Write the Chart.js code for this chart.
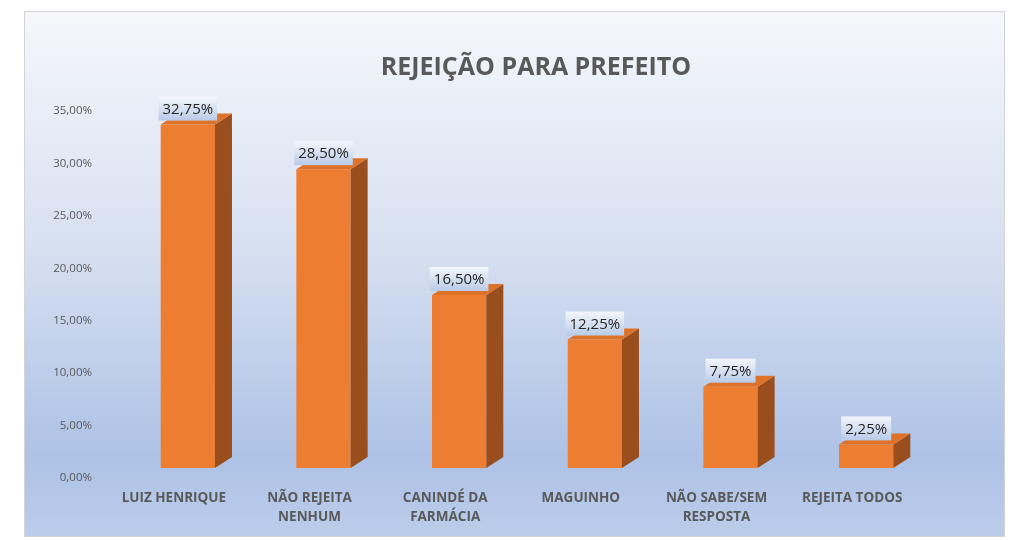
<!DOCTYPE html>
<html>
<head>
<meta charset="utf-8">
<script src="https://cdn.jsdelivr.net/npm/chart.js@4"></script>
<style>
  body { margin: 0; background: #ffffff; }
  #wrap { width: 1024px; height: 540px; position: relative; }
</style>
</head>
<body>
<div id="wrap"><canvas id="chart" width="1024" height="540"></canvas></div>
<script>
const categories = [
    ['LUIZ HENRIQUE'],
    ['NÃO REJEITA', 'NENHUM'],
    ['CANINDÉ DA', 'FARMÁCIA'],
    ['MAGUINHO'],
    ['NÃO SABE/SEM', 'RESPOSTA'],
    ['REJEITA TODOS']
];
const rejeicao = [32.75, 28.50, 16.50, 12.25, 7.75, 2.25];
const yTicks = [0, 5, 10, 15, 20, 25, 30, 35];

const fmt = v => v.toFixed(2).replace('.', ',') + '%';

// 3D look: shift bars up a bit and add side/top faces + value boxes
const depthX = 17, depthY = -11, shiftY = -10;

const frame = {
    id: 'frame',
    beforeDraw(chart) {
        const ctx = chart.ctx;
        const g = ctx.createLinearGradient(0, 11, 0, 536);
        g.addColorStop(0, '#f5f7fb');
        g.addColorStop(0.45, '#d7e0f1');
        g.addColorStop(0.85, '#adc2e6');
        g.addColorStop(1, '#bccdeb');
        ctx.save();
        ctx.fillStyle = g;
        ctx.fillRect(24, 11, 980, 525);
        ctx.strokeStyle = '#d4d4d4';
        ctx.lineWidth = 1;
        ctx.strokeRect(24.5, 11.5, 980, 525);
        // title
        ctx.fillStyle = '#595959';
        ctx.font = 'bold 25px "Open Sans"';
        ctx.textAlign = 'center';
        ctx.textBaseline = 'middle';
        ctx.fillText('REJEIÇÃO PARA PREFEITO', 536, 68);
        ctx.restore();
    },
    beforeDatasetsDraw(chart) {
        chart.ctx.save();
        chart.ctx.translate(0, shiftY);
    },
    afterDatasetsDraw(chart) {
        const ctx = chart.ctx;
        const meta = chart.getDatasetMeta(0);
        meta.data.forEach((bar, i) => {
            const l = bar.x - bar.width / 2, r = bar.x + bar.width / 2;
            const t = bar.y, b = bar.base;
            // side face
            ctx.fillStyle = '#9a4e1d';
            ctx.beginPath();
            ctx.moveTo(r, t);
            ctx.lineTo(r + depthX, t + depthY);
            ctx.lineTo(r + depthX, b + depthY);
            ctx.lineTo(r, b);
            ctx.closePath();
            ctx.fill();
            // top face
            ctx.fillStyle = '#df7229';
            ctx.beginPath();
            ctx.moveTo(l, t);
            ctx.lineTo(l + depthX, t + depthY);
            ctx.lineTo(r + depthX, t + depthY);
            ctx.lineTo(r, t);
            ctx.closePath();
            ctx.fill();
        });
        ctx.restore();

        // value boxes
        ctx.save();
        ctx.font = '15px "Open Sans"';
        ctx.textAlign = 'center';
        ctx.textBaseline = 'middle';
        meta.data.forEach((bar, i) => {
            const txt = fmt(rejeicao[i]);
            const w = ctx.measureText(txt).width + 8;
            const h = 24;
            const top = bar.y + shiftY - 4 - h;
            const g = ctx.createLinearGradient(0, top, 0, top + h);
            g.addColorStop(0, '#f4f7fc');
            g.addColorStop(1, '#b9cbe8');
            ctx.fillStyle = g;
            ctx.fillRect(bar.x - w / 2, top, w, h);
            ctx.fillStyle = '#262626';
            ctx.fillText(txt, bar.x, top + h / 2 + 1);
        });
        ctx.restore();
    }
};

new Chart(document.getElementById('chart'), {
    type: 'bar',
    data: {
        labels: categories,
        datasets: [{
            data: rejeicao,
            backgroundColor: '#ed7d31',
            barPercentage: 0.4,
            categoryPercentage: 1,
            clip: false
        }]
    },
    plugins: [frame],
    options: {
        responsive: false,
        animation: false,
        layout: { padding: { top: 111, right: 90, bottom: 4, left: 0 } },
        plugins: {
            legend: { display: false },
            tooltip: { enabled: false }
        },
        scales: {
            x: {
                grid: { display: false, drawTicks: false },
                border: { display: false },
                afterFit: s => { s.height = 58; },
                ticks: {
                    color: '#595959',
                    font: { family: 'Open Sans', size: 13.5, weight: 'bold', lineHeight: 1.45 },
                    padding: 10,
                    labelOffset: -14,
                    maxRotation: 0,
                    autoSkip: false
                }
            },
            y: {
                min: 0,
                max: 35,
                grid: { display: false, drawTicks: false },
                border: { display: false },
                afterFit: s => { s.width = 120; },
                afterBuildTicks: s => { s.ticks = yTicks.map(v => ({ value: v })); },
                ticks: {
                    color: '#595959',
                    font: { family: 'Open Sans', size: 11.5 },
                    padding: 28,
                    callback: v => fmt(v)
                }
            }
        }
    }
});
</script>
</body>
</html>
